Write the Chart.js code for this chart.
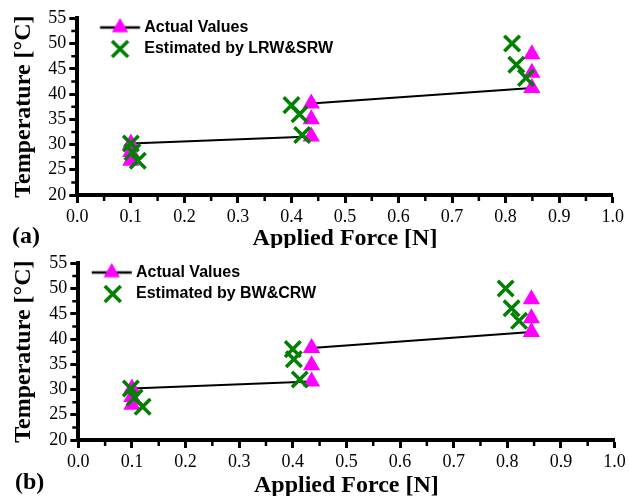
<!DOCTYPE html>
<html><head><meta charset="utf-8">
<script src="https://cdn.jsdelivr.net/npm/chart.js@4.4.1/dist/chart.umd.min.js"></script>
<style>
html,body{margin:0;padding:0;background:#fff;}
#wrap{position:relative;width:629px;height:496px;background:#fff;}
canvas{position:absolute;left:0;}
</style></head><body>
<div id="wrap">
<canvas id="ca" width="629" height="248" style="top:0"></canvas>
<canvas id="cb" width="629" height="248" style="top:248px"></canvas>
</div>
<script>
// ---- tick labels ----
const xTickValues = [0.0, 0.1, 0.2, 0.3, 0.4, 0.5, 0.6, 0.7, 0.8, 0.9, 1.0];
const yTickValues = [20, 25, 30, 35, 40, 45, 50, 55];
const xMinorTicks = [0.05, 0.15, 0.25, 0.35, 0.45, 0.55, 0.65, 0.75, 0.85, 0.95];
const yMinorTicks = [22.5, 27.5, 32.5, 37.5, 42.5, 47.5, 52.5];

// ---- panel (a) ----
const forceActualA = [0.10, 0.10, 0.10, 0.437, 0.437, 0.437, 0.849, 0.849, 0.849];
const tempActualA  = [26.8, 28.5, 30.2, 31.6, 35.0, 38.1, 41.2, 44.2, 47.9];
const forceEstA    = [0.100, 0.103, 0.113, 0.400, 0.415, 0.420, 0.812, 0.820, 0.838];
const tempEstA     = [30.2, 28.5, 26.8, 37.8, 36.0, 31.9, 50.0, 45.8, 43.2];

// ---- panel (b) ----
const forceActualB = [0.10, 0.10, 0.10, 0.435, 0.435, 0.435, 0.845, 0.845, 0.845];
const tempActualB  = [27.0, 28.5, 30.2, 31.6, 34.8, 38.2, 41.4, 44.1, 47.9];
const forceEstB    = [0.098, 0.105, 0.120, 0.400, 0.402, 0.413, 0.797, 0.808, 0.822];
const tempEstB     = [30.2, 28.4, 26.6, 38.0, 36.0, 32.0, 50.0, 46.1, 43.6];

const labelActual = 'Actual Values';
const labelEstA = 'Estimated by LRW&SRW';
const labelEstB = 'Estimated by BW&CRW';

const SERIF = '"Liberation Serif", "Times New Roman", serif';
const SANS = '"Liberation Sans", Arial, sans-serif';
const MAGENTA = '#FF00FF';
const GREEN = '#008000';

function toPts(xs, ys) { return xs.map((x, i) => ({x: x, y: ys[i]})); }

function makeIcon(kind, offset) {
  const c = document.createElement('canvas');
  c.width = 90; c.height = 24;
  const g = c.getContext('2d');
  const cx = 45 + offset, cy = 12;
  if (kind === 'tri') {
    g.strokeStyle = '#000'; g.lineWidth = 2.5;
    g.beginPath(); g.moveTo(cx - 20, cy); g.lineTo(cx + 20, cy); g.stroke();
    const r = 9.5;
    g.fillStyle = MAGENTA;
    g.beginPath();
    g.moveTo(cx, cy - r);
    g.lineTo(cx + r * 0.866, cy + r / 2);
    g.lineTo(cx - r * 0.866, cy + r / 2);
    g.closePath(); g.fill();
  } else {
    g.strokeStyle = GREEN; g.lineWidth = 3.5;
    const h = 8;
    g.beginPath();
    g.moveTo(cx - h, cy - h); g.lineTo(cx + h, cy + h);
    g.moveTo(cx + h, cy - h); g.lineTo(cx - h, cy + h);
    g.stroke();
  }
  return c;
}

const minorTicks = {
  id: 'minorTicks',
  afterDraw(chart) {
    const ctx = chart.ctx, xs = chart.scales.x, ys = chart.scales.y, a = chart.chartArea;
    ctx.save();
    ctx.strokeStyle = '#000'; ctx.lineWidth = 2.5;
    ctx.beginPath();
    xMinorTicks.forEach(v => { const p = xs.getPixelForValue(v); ctx.moveTo(p, a.bottom); ctx.lineTo(p, a.bottom + 6); });
    yMinorTicks.forEach(v => { const p = ys.getPixelForValue(v); ctx.moveTo(a.left, p); ctx.lineTo(a.left - 6, p); });
    ctx.stroke();
    ctx.restore();
  }
};

function makeChart(id, opt) {
  const panelTag = {
    id: 'panelTag',
    afterDraw(chart) {
      const ctx = chart.ctx;
      ctx.save();
      ctx.font = 'bold 24px ' + SERIF;
      ctx.fillStyle = '#000';
      ctx.textBaseline = 'middle';
      ctx.textAlign = 'left';
      ctx.fillText(opt.tag, opt.tagX, opt.tagY);
      ctx.restore();
    }
  };
  const legendShift = {
    id: 'legendShift',
    afterLayout(chart) {
      const lg = chart.legend;
      if (lg) {
        const h = lg.height;
        lg.top = chart.chartArea.top - 4.3;
        lg.bottom = lg.top + h;
        lg.left = chart.chartArea.left;
        lg.right = lg.left + lg.width;
      }
    }
  };
  const icons = [makeIcon('tri', opt.triOff), makeIcon('x', opt.xOff)];
  return new Chart(document.getElementById(id), {
    type: 'scatter',
    data: {
      datasets: [
        {
          label: labelActual,
          data: toPts(opt.ax, opt.ay),
          showLine: true,
          borderColor: '#000',
          borderWidth: 2,
          tension: 0,
          pointStyle: 'triangle',
          pointRadius: 10,
          pointBackgroundColor: MAGENTA,
          pointBorderColor: MAGENTA,
          pointBorderWidth: 0,
          segment: {
            borderColor: c => (c.p0.parsed.x === c.p1.parsed.x ? 'rgba(0,0,0,0)' : undefined)
          },
          order: 2
        },
        {
          label: opt.estLabel,
          data: toPts(opt.ex, opt.ey),
          showLine: false,
          pointStyle: 'crossRot',
          pointRadius: 11,
          pointBorderWidth: 3.5,
          pointBorderColor: GREEN,
          pointBackgroundColor: GREEN,
          order: 1
        }
      ]
    },
    options: {
      responsive: false,
      animation: false,
      events: [],
      layout: { padding: { top: opt.top, right: opt.right, left: 0, bottom: 0 } },
      plugins: {
        tooltip: { enabled: false },
        legend: {
          display: true,
          position: 'chartArea',
          align: 'start',
          labels: {
            usePointStyle: true,
            pointStyleWidth: opt.boxW,
            padding: 5.5,
            color: '#000',
            font: { family: SANS, size: 16, weight: 'bold' },
            sort: (a, b) => a.datasetIndex - b.datasetIndex,
            generateLabels(chart) {
              const items = Chart.defaults.plugins.legend.labels.generateLabels(chart);
              items.forEach(it => { it.pointStyle = icons[it.datasetIndex]; });
              return items;
            }
          }
        }
      },
      scales: {
        x: {
          type: 'linear',
          min: 0, max: 1,
          afterBuildTicks: s => { s.ticks = xTickValues.map(v => ({value: v})); },
          afterFit: s => { s.height = opt.xH; },
          ticks: {
            color: '#000', padding: 3, maxRotation: 0, autoSkip: false,
            font: { family: SERIF, size: 18 },
            callback: v => Number(v).toFixed(1)
          },
          grid: { drawOnChartArea: false, drawTicks: true, tickLength: 8, tickWidth: 3, tickColor: '#000' },
          border: { display: true, color: '#000', width: 4 },
          title: {
            display: true, text: 'Applied Force [N]', color: '#000',
            font: { family: SERIF, size: 24, weight: 'bold', lineHeight: 0.8 },
            padding: { top: 0, bottom: opt.xTitlePad }
          }
        },
        y: {
          type: 'linear',
          min: 20, max: 55,
          afterBuildTicks: s => { s.ticks = yTickValues.map(v => ({value: v})); },
          afterFit: s => { s.width = opt.yW; },
          ticks: {
            color: '#000', padding: 3, autoSkip: false,
            font: { family: SERIF, size: 18 },
            callback: v => String(v)
          },
          grid: { drawOnChartArea: false, drawTicks: true, tickLength: 8, tickWidth: 3, tickColor: '#000' },
          border: { display: true, color: '#000', width: 4 },
          title: {
            display: true, text: 'Temperature [°C]', color: '#000',
            font: { family: SERIF, size: 24, weight: 'bold', lineHeight: 1 },
            padding: { top: 12, bottom: 0 }
          }
        }
      }
    },
    plugins: [minorTicks, panelTag, legendShift]
  });
}

makeChart('ca', {
  ax: forceActualA, ay: tempActualA, ex: forceEstA, ey: tempEstA, estLabel: labelEstA,
  top: 18.3, right: 16.3, yW: 77.3, xH: 53, xTitlePad: 0,
  boxW: 53.5, triOff: 10.5, xOff: 10.5,
  tag: '(a)', tagX: 12, tagY: 237
});
makeChart('cb', {
  ax: forceActualB, ay: tempActualB, ex: forceEstB, ey: tempEstB, estLabel: labelEstB,
  top: 15.3, right: 14, yW: 78.3, xH: 56, xTitlePad: 1,
  boxW: 44.2, triOff: 5.8, xOff: 6.8,
  tag: '(b)', tagX: 15, tagY: 235
});
</script>
</body></html>
